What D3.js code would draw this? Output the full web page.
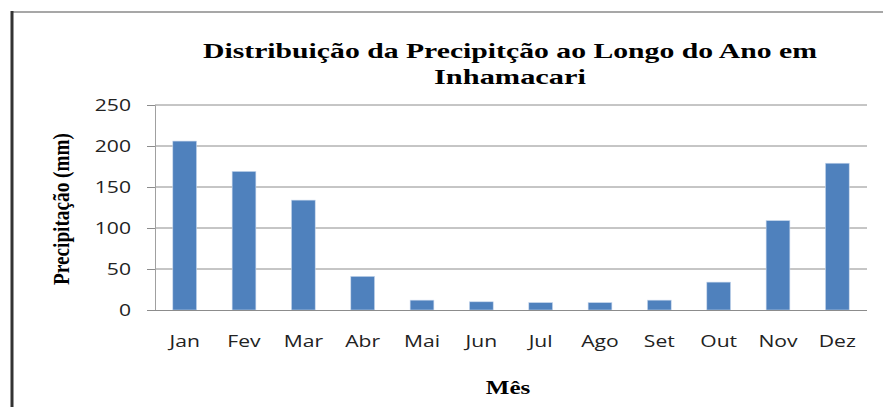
<!DOCTYPE html>
<html>
<head>
<meta charset="utf-8">
<script src="https://cdn.jsdelivr.net/npm/d3@7"></script>
<style>
  body { margin: 0; background: #fff; }
  .tick text { font-family: "Open Sans", "Liberation Sans", sans-serif; font-size: 16px; fill: #222; }
</style>
</head>
<body>
<svg width="883" height="407"></svg>
<script>
var months = ["Jan", "Fev", "Mar", "Abr", "Mai", "Jun", "Jul", "Ago", "Set", "Out", "Nov", "Dez"];
var precip = [206, 169, 134, 41, 12, 10, 9, 9, 12, 34, 109, 179];
var yTicks = [0, 50, 100, 150, 200, 250];

var svg = d3.select("svg");
var margin = {top: 105, right: 16, bottom: 97, left: 155};
var width = 883 - margin.left - margin.right,
    height = 407 - margin.top - margin.bottom;
var stretch = 1.32; // the reference text is a bit wide

// frame
svg.append("line").attr("x1", 12).attr("x2", 883).attr("y1", 12).attr("y2", 12)
  .attr("stroke", "#8a8a8a").attr("stroke-width", 1.5);
svg.append("line").attr("x1", 12).attr("x2", 12).attr("y1", 11).attr("y2", 407)
  .attr("stroke", "#333").attr("stroke-width", 3);

var g = svg.append("g").attr("transform", "translate(" + margin.left + "," + margin.top + ")");

var x = d3.scaleBand().domain(months).range([0, width]).paddingInner(0.6).paddingOuter(0.3);
var y = d3.scaleLinear().domain([0, 250]).range([height, 0]);

// gridlines
g.selectAll(".grid").data(yTicks.slice(1)).enter().append("line")
  .attr("x1", 0).attr("x2", width)
  .attr("y1", function(d) { return y(d); }).attr("y2", function(d) { return y(d); })
  .attr("stroke", "#8c8c8c").attr("stroke-width", 1);

// bars
g.selectAll(".bar").data(precip).enter().append("rect")
  .attr("x", function(d, i) { return x(months[i]); })
  .attr("y", function(d) { return y(d); })
  .attr("width", x.bandwidth())
  .attr("height", function(d) { return height - y(d); })
  .attr("fill", "#4f81bd")
  .attr("stroke", "#c6d6ec").attr("stroke-width", 0.6);

// y axis
var yAxis = g.append("g").call(d3.axisLeft(y).tickValues(yTicks).tickSize(8));
yAxis.select(".domain").attr("stroke", "#a0a0a0");
yAxis.selectAll(".tick line").attr("stroke", "#8c8c8c");
yAxis.selectAll(".tick text")
  .attr("x", 0)
  .attr("transform", "translate(-24,0) scale(" + stretch + ",1)");

// x axis
var xAxis = g.append("g").attr("transform", "translate(0," + height + ")")
  .call(d3.axisBottom(x).tickSize(0));
xAxis.select(".domain").attr("stroke", "#8c8c8c").attr("d", "M0,0.5H" + width);
xAxis.selectAll(".tick text")
  .attr("y", 0).attr("dy", null)
  .attr("transform", "translate(0,37) scale(" + stretch + ",1)");

// titles
var serif = "'Liberation Serif', 'Times New Roman', serif";
svg.append("text").attr("x", 510).attr("y", 58).attr("text-anchor", "middle")
  .attr("font-family", serif).attr("font-weight", "bold").attr("font-size", 21)
  .attr("textLength", 614).attr("lengthAdjust", "spacingAndGlyphs")
  .text("Distribuição da Precipitção ao Longo do Ano em");
svg.append("text").attr("x", 510).attr("y", 84).attr("text-anchor", "middle")
  .attr("font-family", serif).attr("font-weight", "bold").attr("font-size", 21)
  .attr("textLength", 152).attr("lengthAdjust", "spacingAndGlyphs")
  .text("Inhamacari");

svg.append("text")
  .attr("transform", "translate(62,209) scale(" + stretch + ",1) rotate(-90)")
  .attr("text-anchor", "middle").attr("dy", "0.32em")
  .attr("font-family", serif).attr("font-weight", "bold").attr("font-size", 17)
  .attr("textLength", 152).attr("lengthAdjust", "spacingAndGlyphs")
  .text("Precipitação (mm)");

svg.append("text")
  .attr("transform", "translate(508,394) scale(" + stretch + ",1)")
  .attr("text-anchor", "middle")
  .attr("font-family", serif).attr("font-weight", "bold").attr("font-size", 19)
  .text("Mês");
</script>
</body>
</html>
